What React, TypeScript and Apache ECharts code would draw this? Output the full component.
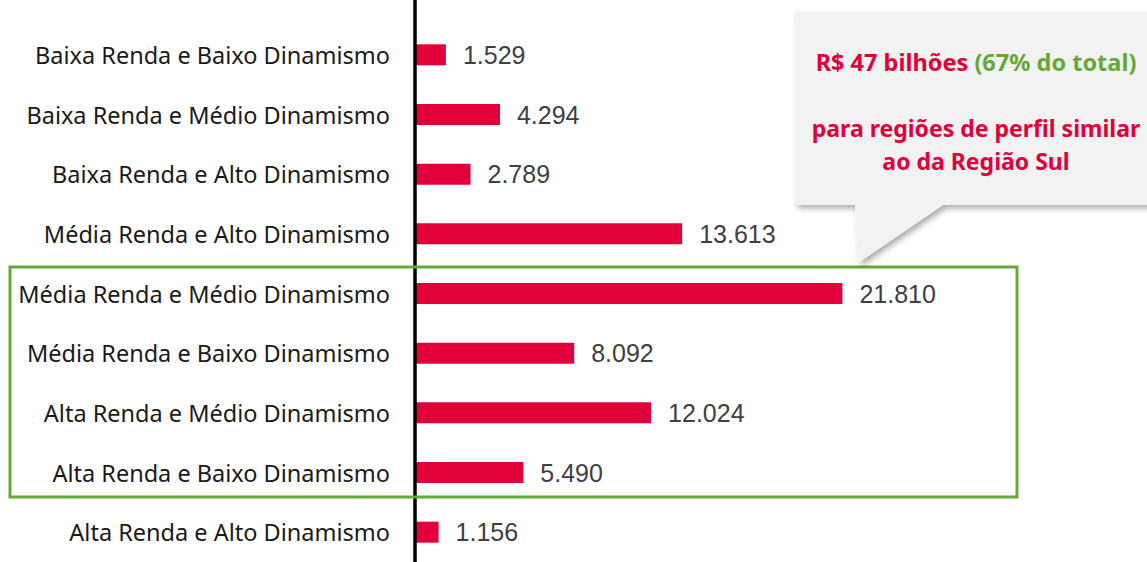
import React, { useEffect, useRef } from "react";
import * as echarts from "echarts";

const categories = [
  "Baixa Renda e Baixo Dinamismo",
  "Baixa Renda e Médio Dinamismo",
  "Baixa Renda e Alto Dinamismo",
  "Média Renda e Alto Dinamismo",
  "Média Renda e Médio Dinamismo",
  "Média Renda e Baixo Dinamismo",
  "Alta Renda e Médio Dinamismo",
  "Alta Renda e Baixo Dinamismo",
  "Alta Renda e Alto Dinamismo",
];
const values = [1529, 4294, 2789, 13613, 21810, 8092, 12024, 5490, 1156];

const RED = "#e2003b";
const GREEN = "#66a835";

function fmt(v: number): string {
  return v.toLocaleString("de-DE");
}

export default function App() {
  const ref = useRef<HTMLDivElement>(null);
  useEffect(() => {
    if (!ref.current) return;
    const chart = echarts.init(ref.current, null, { renderer: "svg" });
    chart.setOption({
      animation: false,
      backgroundColor: "#ffffff",
      grid: { left: 416, top: 25, width: 586.5, bottom: -5 },
      xAxis: { type: "value", min: 0, max: 30000, show: false },
      yAxis: {
        type: "category",
        inverse: true,
        data: categories,
        axisLine: { show: false },
        axisTick: { show: false },
        axisLabel: {
          margin: 26,
          color: "#1a1a1a",
          fontSize: 23.5,
          fontFamily: "Noto Sans",
        },
      },
      series: [
        {
          type: "bar",
          data: values,
          barWidth: 21,
          itemStyle: { color: RED },
          label: {
            show: true,
            position: "right",
            distance: 17,
            color: "#404040",
            fontSize: 25,
            fontFamily: "Liberation Sans",
            formatter: (p: any) => fmt(p.value),
          },
        },
      ],
      graphic: [
        {
          type: "line",
          shape: { x1: 415, y1: 0, x2: 415, y2: 562 },
          style: { stroke: "#000", lineWidth: 3.5 },
          z: 10,
        },
        {
          type: "rect",
          shape: { x: 10, y: 267, width: 1007, height: 230 },
          style: { fill: "none", stroke: GREEN, lineWidth: 3 },
          z: 11,
        },
        {
          type: "line",
          shape: { x1: 1030, y1: 13, x2: 1147, y2: 13 },
          style: { stroke: "#d8d8d8", lineWidth: 1 },
          z: 1,
        },
        {
          type: "polygon",
          shape: {
            points: [
              [795, 12],
              [1160, 12],
              [1160, 205],
              [943, 205],
              [858, 263],
              [855, 205],
              [795, 205],
            ],
          },
          style: {
            fill: "#f2f2f2",
            shadowBlur: 6,
            shadowOffsetX: 3,
            shadowOffsetY: 3,
            shadowColor: "rgba(0,0,0,0.35)",
          },
          z: 12,
        },
        {
          type: "text",
          x: 976,
          y: 62,
          style: {
            text: "{r|R$ 47 bilhões }{g|(67% do total)}",
            align: "center",
            verticalAlign: "middle",
            rich: {
              r: { fill: RED, fontSize: 23.5, fontWeight: "bold", fontFamily: "Noto Sans" },
              g: { fill: GREEN, fontSize: 23.5, fontWeight: "bold", fontFamily: "Noto Sans" },
            },
          },
          z: 13,
        },
        {
          type: "text",
          x: 976,
          y: 128,
          style: {
            text: "para regiões de perfil similar",
            fill: RED,
            fontSize: 23,
            fontWeight: "bold",
            fontFamily: "Noto Sans",
            align: "center",
            verticalAlign: "middle",
          },
          z: 13,
        },
        {
          type: "text",
          x: 976,
          y: 161,
          style: {
            text: "ao da Região Sul",
            fill: RED,
            fontSize: 23,
            fontWeight: "bold",
            fontFamily: "Noto Sans",
            align: "center",
            verticalAlign: "middle",
          },
          z: 13,
        },
      ],
    });
    return () => chart.dispose();
  }, []);
  return (
    <div
      ref={ref}
      style={{ position: "fixed", left: 0, top: 0, width: 1147, height: 562 }}
    />
  );
}
